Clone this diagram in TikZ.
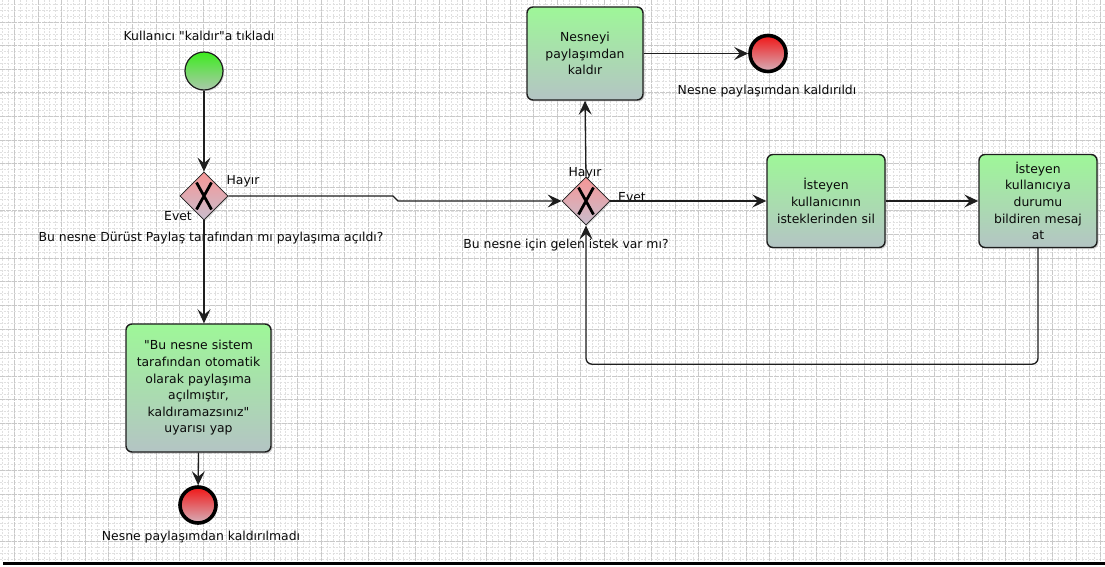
\documentclass[tikz,border=0pt]{standalone}
\usepackage{fontspec}
\setmainfont{DejaVu Sans}[Ligatures=TeXOff]
\usetikzlibrary{shapes.geometric,arrows.meta,shadows,calc}

\definecolor{taskTop}{RGB}{158,247,152}
\definecolor{taskBot}{RGB}{180,196,196}
\definecolor{startTop}{RGB}{60,236,30}
\definecolor{startBot}{RGB}{172,200,172}
\definecolor{endTop}{RGB}{240,22,22}
\definecolor{endBot}{RGB}{214,176,186}
\definecolor{gateTop}{RGB}{246,150,150}
\definecolor{gateBot}{RGB}{200,190,206}
\definecolor{ink}{RGB}{30,30,30}
\definecolor{textink}{RGB}{10,10,10}

\begin{document}
\begin{tikzpicture}[x=1bp,y=-1bp,
  txt/.style={font=\fontsize{12.4bp}{16.6bp}\selectfont, text=textink},
  lbl/.style={txt, inner sep=0pt},
  task/.style={txt, draw=ink, line width=1.4bp, rounded corners=6bp,
    top color=taskTop, bottom color=taskBot, align=center, inner sep=1bp,
    drop shadow={shadow xshift=1.5bp, shadow yshift=-1.5bp, opacity=0.35}},
  startev/.style={circle, draw=ink, line width=1.2bp, minimum size=38bp, inner sep=0pt,
    top color=startTop, bottom color=startBot,
    drop shadow={shadow xshift=1.2bp, shadow yshift=-1.2bp, opacity=0.3}},
  endev/.style={circle, draw=black, line width=3.6bp, minimum size=36bp, inner sep=0pt,
    top color=endTop, bottom color=endBot,
    drop shadow={shadow xshift=1.2bp, shadow yshift=-1.2bp, opacity=0.3}},
  xgate/.style={diamond, draw=ink, line width=0.8bp, minimum width=48bp, minimum height=48bp,
    inner sep=0pt, top color=gateTop, bottom color=gateBot,
    drop shadow={shadow xshift=1.2bp, shadow yshift=-1.2bp, opacity=0.3},
    path picture={
      \draw[line width=2.8bp, black]
        ($(path picture bounding box.center)+(-7.5,-13.5)$) -- ($(path picture bounding box.center)+(7.5,13.5)$)
        ($(path picture bounding box.center)+(7.5,-13.5)$) -- ($(path picture bounding box.center)+(-7.5,13.5)$);}},
  flow/.style={draw=ink, line width=1.3bp, -{Stealth[length=14bp, width=13bp, inset=5.5bp]}},
  minorline/.style={gray!24, line width=0.6bp, dash pattern=on 2bp off 1.5bp},
  majorline/.style={gray!42, line width=0.8bp, dash pattern=on 5bp off 1bp}
]
\useasboundingbox (0,0) rectangle (1105,567);
\fill[white] (0,0) rectangle (1105,567);

% grid paper
\begin{scope}
  \clip (0,0) rectangle (1105,561);
  \foreach \i in {-4,...,190} {
    \draw[minorline] ({14.3+\i*5.9},0) -- ({14.3+\i*5.9},561);
  }
  \foreach \i in {-4,...,100} {
    \draw[minorline] (0,{22.1+\i*5.9}) -- (1105,{22.1+\i*5.9});
  }
  \foreach \i in {-1,...,47} {
    \draw[majorline] ({14.3+\i*23.6},0) -- ({14.3+\i*23.6},561);
  }
  \foreach \i in {-1,...,24} {
    \draw[majorline] (0,{22.1+\i*23.6}) -- (1105,{22.1+\i*23.6});
  }
\end{scope}
\draw[line width=2.6bp, black] (3,563.5) -- (1105,563.5);

% events, gateways and tasks
\node[startev] (start) at (204,71) {};
\node[lbl] (startlbl) at (199,36) {Kullanıcı "kaldır"a tıkladı};

\node[xgate] (g1) at (204,196) {};
\node[lbl] (g1no) at (243,181) {Hayır};
\node[lbl] (g1yes) at (178,216) {Evet};
\node[lbl] (g1q) at (211,238) {Bu nesne Dürüst Paylaş tarafından mı paylaşıma açıldı?};

\node[task, minimum width=145bp, minimum height=128bp, text width=138bp] (warn) at (198.5,388)
  {"Bu nesne sistem\\tarafından otomatik\\olarak paylaşıma\\açılmıştır,\\kaldıramazsınız"\\uyarısı yap};
\node[endev] (end2) at (198,505) {};
\node[lbl] (end2lbl) at (201,537) {Nesne paylaşımdan kaldırılmadı};

\node[xgate] (g2) at (586,201) {};
\node[lbl] (g2no) at (585,173) {Hayır};
\node[lbl] (g2yes) at (632,197) {Evet};
\node[lbl] (g2q) at (566,245) {Bu nesne için gelen istek var mı?};

\node[task, minimum width=116bp, minimum height=93bp, text width=110bp] (remove) at (585,53.5)
  {Nesneyi\\paylaşımdan\\kaldır};
\node[endev] (end1) at (768,53.5) {};
\node[lbl] (end1lbl) at (767,91) {Nesne paylaşımdan kaldırıldı};

\node[task, minimum width=118bp, minimum height=93bp, text width=114bp] (delreq) at (826,201)
  {İsteyen\\kullanıcının\\isteklerinden sil};
\node[task, minimum width=118bp, minimum height=93bp, text width=114bp] (notify) at (1038,201)
  {İsteyen\\kullanıcıya\\durumu\\bildiren mesaj\\at};

% sequence flows
\coordinate (jog1) at (393,196);
\coordinate (jog2) at (398,201);
\draw[flow] (start) -- (g1);
\draw[flow] (g1.east) -- (jog1) -- (jog2) -- (g2.west);
\draw[flow] (g1.south) -- (g1.south |- warn.north);
\draw[flow] (warn.south) -- (end2);
\draw[flow] (g2.north) -- (remove.south);
\draw[flow] (remove.east) -- (end1);
\draw[flow] (g2.east) -- (delreq.west);
\draw[flow] (delreq.east) -- (notify.west);
\draw[flow, rounded corners=6bp] (notify.south) -- ++(0,116) -| (g2.south);
\end{tikzpicture}
\end{document}
